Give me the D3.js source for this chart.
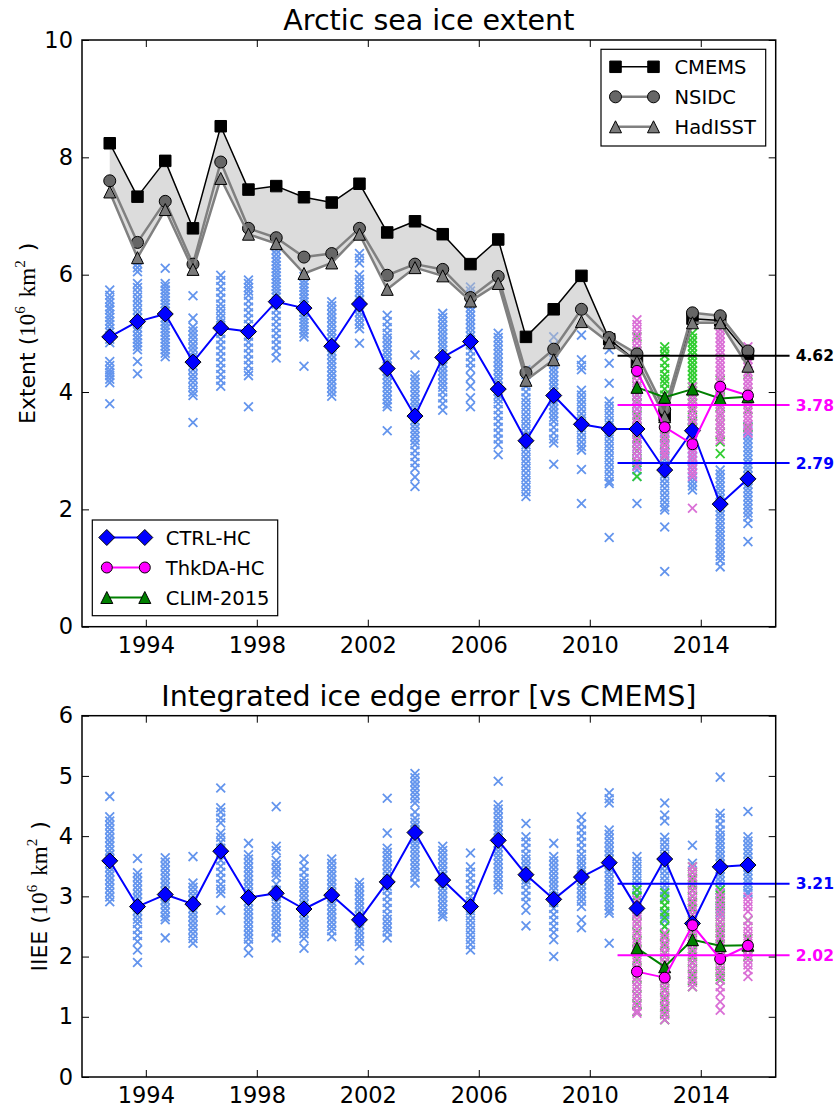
<!DOCTYPE html>
<html><head><meta charset="utf-8">
<script src="https://cdn.jsdelivr.net/npm/d3@7"></script>
<style>body{margin:0;background:#fff} svg text{font-family:"DejaVu Sans",sans-serif}</style>
</head><body><svg id="c" width="836" height="1107"></svg>
<script>
// ---------------- DATA ----------------
const years = [1992,1993,1994,1995,1996,1997,1998,1999,2000,2001,2002,2003,2004,2005,2006,2007,2008,2009,2010,2011,2012,2013,2014,2015];
const fcYears = [2011,2012,2013,2014,2015];
const monthOffset = 0.7; // September
const xTickYears = [1994,1998,2002,2006,2010,2014];
const extentTicks = [0,2,4,6,8,10];
const iieeTicks = [0,1,2,3,4,5,6];

const cmems   = [8.24,7.33,7.94,6.79,8.53,7.45,7.51,7.32,7.23,7.55,6.72,6.91,6.69,6.18,6.60,4.94,5.41,5.98,4.90,4.52,3.60,5.25,5.22,4.65];
const nsidc   = [7.60,6.55,7.25,6.18,7.92,6.79,6.63,6.30,6.36,6.79,5.99,6.18,6.09,5.61,5.97,4.33,4.73,5.41,4.93,4.65,3.70,5.35,5.30,4.70];
const hadisst = [7.41,6.29,7.11,6.09,7.64,6.69,6.53,6.02,6.20,6.69,5.75,6.12,5.98,5.55,5.85,4.20,4.55,5.20,4.84,4.52,3.58,5.18,5.18,4.44];

const ctrlExtent = [4.94,5.20,5.33,4.51,5.09,5.03,5.54,5.43,4.78,5.50,4.40,3.59,4.59,4.86,4.05,3.17,3.94,3.45,3.37,3.37,2.67,3.34,2.09,2.52];
const thkExtent  = [4.36,3.40,3.11,4.09,3.94];
const climExtent = [4.08,3.91,4.05,3.89,3.92];

const ctrlIIEE = [3.59,2.83,3.03,2.87,3.75,2.98,3.05,2.79,3.02,2.61,3.24,4.06,3.27,2.83,3.93,3.36,2.95,3.32,3.56,2.80,3.62,2.55,3.49,3.52];
const thkIIEE  = [1.75,1.65,2.52,1.96,2.18];
const climIIEE = [2.14,1.83,2.28,2.18,2.19];

const extentMeans = [4.62,3.78,2.79];   // CMEMS, ThkDA-HC, CTRL-HC  (2011-2015)
const iieeMeans   = [3.21,2.02];        // CTRL-HC, ThkDA-HC

const ctrlEnsExtent = [
 [5.74,5.65,5.58,5.52,5.45,5.40,5.33,5.27,5.21,5.15,5.08,5.02,4.96,4.90,4.84,4.52,4.45,4.38,4.33,4.28,4.22,4.16,3.80],
 [6.19,6.12,6.05,5.85,5.78,5.70,5.62,5.55,5.48,5.40,5.33,5.26,5.18,5.10,5.03,4.96,4.90,4.84,4.78,4.72,4.52,4.31],
 [6.11,5.85,5.80,5.74,5.68,5.62,5.56,5.50,5.44,5.38,5.32,5.26,5.20,5.14,5.08,5.02,4.96,4.90,4.84,4.78,4.72,4.66,4.60],
 [5.64,5.26,5.11,5.04,4.97,4.90,4.82,4.75,4.68,4.60,4.52,4.45,4.38,4.30,4.23,4.16,4.08,4.00,3.94,3.48],
 [5.99,5.90,5.80,5.70,5.60,5.50,5.42,5.34,5.26,5.18,5.10,5.00,4.90,4.80,4.70,4.60,4.50,4.40,4.30,4.20,4.10],
 [5.91,5.85,5.78,5.72,5.65,5.55,5.45,5.35,5.25,5.15,5.05,4.95,4.85,4.75,4.65,4.55,4.45,4.35,4.28,3.75],
 [6.42,6.35,6.28,6.22,6.16,6.10,6.04,5.98,5.92,5.86,5.80,5.74,5.68,5.62,5.50,5.40,5.30,5.20,5.10,5.00,4.90,4.80,4.70,4.58],
 [5.97,5.90,5.84,5.78,5.72,5.66,5.60,5.54,5.48,5.42,5.36,5.30,5.24,5.18,5.12,5.06,5.00,4.94,4.44],
 [5.54,5.47,5.40,5.33,5.26,5.19,5.12,5.05,4.98,4.91,4.84,4.77,4.70,4.63,4.56,4.49,4.42,4.35,4.28,4.21,4.14,4.07,4.00,3.93],
 [6.36,6.28,6.20,6.00,5.92,5.85,5.78,5.71,5.64,5.57,5.50,5.43,5.36,5.29,5.22,5.15,5.08,4.83],
 [5.31,5.20,5.10,5.00,4.92,4.85,4.78,4.71,4.64,4.57,4.50,4.43,4.36,4.29,4.22,4.15,4.08,4.01,3.94,3.87,3.80,3.75,3.34],
 [4.63,4.29,4.22,4.15,4.08,4.01,3.94,3.87,3.80,3.73,3.66,3.59,3.52,3.45,3.38,3.31,3.24,3.17,3.10,3.00,2.90,2.80,2.70,2.55,2.39],
 [5.34,5.27,5.20,5.13,5.06,4.99,4.92,4.85,4.78,4.71,4.64,4.57,4.50,4.43,4.36,4.29,4.22,4.15,4.08,4.00,3.90,3.80,3.69],
 [5.79,5.72,5.65,5.58,5.51,5.44,5.37,5.30,5.23,5.16,5.09,5.02,4.95,4.88,4.80,4.70,4.60,4.50,4.40,4.25,4.10,3.90,3.75],
 [5.00,4.93,4.86,4.79,4.72,4.65,4.58,4.51,4.44,4.37,4.30,4.23,4.16,4.09,4.02,3.95,3.88,3.80,3.70,3.60,3.50,3.40,3.30,3.20,3.10,2.93],
 [4.38,4.30,4.20,4.10,4.00,3.90,3.82,3.74,3.66,3.58,3.50,3.42,3.34,3.26,3.18,3.10,3.02,2.94,2.86,2.78,2.70,2.62,2.54,2.46,2.38,2.30,2.22],
 [4.94,4.80,4.70,4.62,4.55,4.48,4.41,4.34,4.27,4.20,4.13,4.06,3.99,3.92,3.85,3.78,3.71,3.64,3.57,3.50,3.40,3.30,3.20,3.13,2.77],
 [4.97,4.55,4.45,4.38,4.03,3.95,3.87,3.79,3.71,3.63,3.55,3.47,3.39,3.31,3.23,3.15,3.07,3.01,2.68,2.10],
 [4.72,4.49,4.15,3.84,3.76,3.68,3.60,3.52,3.44,3.36,3.28,3.20,3.12,3.04,2.96,2.88,2.80,2.72,2.64,2.56,2.48,2.44,1.52],
 [4.03,3.95,3.87,3.79,3.71,3.63,3.55,3.47,3.39,3.31,3.23,3.15,3.07,2.99,2.91,2.83,2.75,2.67,2.56,2.10],
 [3.30,3.20,3.10,3.00,2.92,2.84,2.76,2.68,2.60,2.52,2.44,2.36,2.28,2.20,2.12,2.04,1.99,1.70,0.94],
 [3.52,3.45,3.38,3.31,3.24,3.17,3.10,3.03,2.96,2.89,2.82,2.75,2.68,2.61,2.54,2.47,2.40,2.33],
 [2.67,2.60,2.53,2.46,2.39,2.32,2.25,2.18,2.11,2.04,1.97,1.90,1.83,1.76,1.69,1.62,1.55,1.48,1.41,1.34,1.27,1.20,1.13,1.02],
 [3.41,3.34,3.27,3.20,3.13,3.06,2.99,2.92,2.85,2.78,2.71,2.64,2.57,2.50,2.43,2.36,2.29,2.22,2.15,2.08,2.01,1.94,1.87,1.76,1.45]
];
const thkEnsExtent = [
 [5.23,5.15,5.07,4.99,4.91,4.83,4.75,4.67,4.59,4.51,4.43,4.35,4.27,4.19,4.11,4.03,3.95,3.87,3.79,3.71,3.63,3.55,3.47,3.39,3.31,3.23,3.15,3.07,2.99,2.91,2.83,2.73],
 [3.86,3.79,3.72,3.65,3.58,3.51,3.44,3.37,3.30,3.23,3.16,3.09,3.02,2.95,2.90],
 [4.09,4.02,3.95,3.88,3.81,3.74,3.67,3.60,3.53,3.46,3.39,3.32,3.25,3.18,3.11,3.04,2.97,2.90,2.83,2.76,2.69,2.62,2.56,2.02],
 [5.06,4.99,4.92,4.85,4.78,4.71,4.64,4.57,4.50,4.43,4.36,4.29,4.22,4.15,4.08,4.01,3.94,3.87,3.80,3.73,3.66,3.59,3.52,3.45,3.38,3.31,3.24,3.18],
 [4.77,4.70,4.63,4.56,4.49,4.42,4.35,4.28,4.21,4.14,4.07,4.00,3.93,3.86,3.79,3.72,3.65,3.58,3.51,3.44,3.37,3.30]
];
const climEnsExtent = [
 [4.94,4.70,4.50,4.30,4.10,3.95,3.80,3.60,3.40,3.20,3.00,2.80,2.56],
 [4.77,4.70,4.62,4.50,4.40,4.30,4.22,4.15,4.05,3.95,3.85,3.70,3.55,3.40,3.25,3.10,2.90],
 [5.00,4.92,4.85,4.78,4.71,4.64,4.57,4.50,4.43,4.36,4.29,4.22,4.15,4.08,4.01,3.94,3.87,3.80,3.70,3.60,3.50,3.40,3.30,3.24],
 [4.20,4.05,3.90,3.75,3.60,3.45,3.30,3.15,2.95],
 [4.30,4.00,3.70,3.40]
];

const ctrlEnsIIEE = [
 [4.66,4.32,4.25,4.18,4.11,4.04,3.97,3.90,3.83,3.76,3.69,3.62,3.55,3.48,3.41,3.34,3.27,3.20,3.13,3.06,2.99,2.91],
 [3.63,3.39,3.32,3.25,3.18,3.11,3.04,2.97,2.90,2.83,2.76,2.69,2.62,2.55,2.45,2.35,2.25,2.11,1.90],
 [3.64,3.57,3.50,3.43,3.36,3.29,3.22,3.15,3.08,3.01,2.94,2.87,2.80,2.73,2.66,2.61,2.31],
 [3.66,3.22,3.15,3.08,3.01,2.94,2.87,2.80,2.73,2.66,2.59,2.52,2.45,2.38,2.30,2.22],
 [4.80,4.47,4.40,4.30,4.22,4.05,3.98,3.90,3.80,3.70,3.60,3.50,3.40,3.30,3.20,3.12,3.05,2.77],
 [3.88,3.69,3.62,3.55,3.48,3.41,3.34,3.27,3.20,3.13,3.06,2.99,2.92,2.85,2.78,2.71,2.64,2.57,2.50,2.43,2.36,2.29,2.20,2.06],
 [4.49,3.83,3.76,3.60,3.53,3.46,3.39,3.32,3.20,3.10,3.00,2.90,2.83,2.76,2.69,2.62,2.55,2.48,2.41,2.31],
 [3.62,3.50,3.40,3.30,3.22,3.15,3.08,3.01,2.94,2.87,2.80,2.73,2.66,2.59,2.52,2.45,2.38,2.30,2.14],
 [3.62,3.55,3.48,3.41,3.34,3.27,3.20,3.13,3.06,2.99,2.92,2.85,2.78,2.71,2.64,2.57,2.50,2.43,2.33],
 [3.23,3.16,3.09,3.02,2.95,2.88,2.81,2.74,2.67,2.60,2.53,2.46,2.39,2.32,2.25,2.17,1.94],
 [4.63,4.05,3.80,3.73,3.66,3.59,3.52,3.45,3.38,3.31,3.24,3.17,3.10,3.00,2.90,2.80,2.70,2.62,2.55,2.48,2.41,2.31],
 [5.04,4.97,4.90,4.83,4.76,4.69,4.62,4.55,4.40,4.30,4.23,4.16,4.09,4.02,3.95,3.88,3.81,3.74,3.67,3.60,3.53,3.46,3.39,3.32,3.22],
 [3.83,3.76,3.69,3.62,3.55,3.48,3.41,3.34,3.27,3.20,3.13,3.06,2.99,2.92,2.85,2.78,2.71,2.66],
 [3.72,3.49,3.40,3.30,3.20,3.10,3.00,2.92,2.84,2.76,2.68,2.60,2.52,2.44,2.36,2.28,2.20,2.11],
 [4.91,4.52,4.45,4.38,4.31,4.24,4.17,4.10,4.03,3.96,3.89,3.82,3.75,3.68,3.61,3.54,3.47,3.40,3.33,3.26,3.19,3.11],
 [4.21,3.99,3.90,3.80,3.70,3.62,3.55,3.48,3.41,3.34,3.27,3.20,3.10,3.00,2.90,2.77,2.51],
 [3.88,3.66,3.59,3.52,3.45,3.38,3.31,3.24,3.17,3.10,3.00,2.90,2.80,2.70,2.60,2.50,2.40,2.28,2.00],
 [4.32,4.20,4.10,4.00,3.90,3.80,3.70,3.62,3.55,3.48,3.41,3.34,3.27,3.20,3.13,3.06,2.99,2.92,2.83,2.61,2.48],
 [4.72,4.62,4.55,4.10,4.03,3.96,3.89,3.82,3.75,3.68,3.61,3.54,3.47,3.40,3.33,3.26,3.19,3.12,3.05,2.98,2.91,2.84,2.77,2.72,2.22],
 [3.66,3.58,3.50,3.42,3.34,3.26,3.18,3.10,3.02,2.94,2.86,2.78,2.72],
 [4.55,4.35,4.25,3.98,3.90,3.82,3.74,3.66,3.58,3.50,3.42,3.34,3.26,3.18,3.10,3.00,2.85,2.70,2.60,2.50],
 [3.85,3.55],
 [4.98,4.38,4.30,4.20,4.10,4.02,3.95,3.88,3.81,3.74,3.67,3.60,3.53,3.46,3.39,3.32,3.25,3.18,3.11,3.04,2.97,2.90,2.80,2.72],
 [4.41,3.99,3.92,3.85,3.78,3.71,3.64,3.57,3.50,3.43,3.36,3.29,3.22,3.15,3.08,3.05]
];
const thkEnsIIEE = [
 [2.94,2.86,2.78,2.70,2.62,2.54,2.46,2.38,2.30,2.22,2.14,2.06,1.98,1.90,1.82,1.74,1.66,1.58,1.50,1.42,1.34,1.26,1.18,1.10,1.06],
 [2.39,2.31,2.23,2.15,2.07,1.99,1.91,1.83,1.75,1.67,1.59,1.51,1.43,1.35,1.27,1.19,1.11,1.03,0.95],
 [3.49,3.41,3.33,3.25,3.17,3.09,3.01,2.93,2.85,2.77,2.69,2.61,2.53,2.45,2.37,2.29,2.21,2.13,2.05,1.97,1.89,1.81,1.73,1.65,1.57,1.50],
 [3.06,2.98,2.90,2.82,2.74,2.66,2.58,2.50,2.42,2.34,2.26,2.18,2.10,2.02,1.94,1.86,1.78,1.70,1.62,1.50,1.40,1.25,1.11],
 [2.99,2.91,2.83,2.75,2.60,2.50,2.42,2.34,2.26,2.18,2.10,2.02,1.94,1.86,1.78,1.67]
];
const climEnsIIEE = [
 [3.11,3.00,2.85,2.70,2.55,2.40,2.25,2.10,1.95,1.80,1.65,1.50,1.35,1.20,1.09],
 [3.06,2.95,2.85,2.75,2.65,2.50,2.35,2.20,2.05,1.90,1.75,1.60,1.45,1.30,1.15,1.05,0.95],
 [3.49,3.40,3.30,3.20,3.10,3.00,2.90,2.80,2.70,2.60,2.50,2.40,2.30,2.20,2.10,2.00,1.90,1.80,1.70,1.60,1.50],
 [3.11,3.02,2.93,2.84,2.75,2.66,2.57,2.48,2.39,2.30,2.21,2.12,2.03,1.94,1.85,1.76,1.67,1.61],
 [2.60,2.30,2.00]
];

// ---------------- STYLE / LAYOUT ----------------
const C = {ctrl:"#0000ff", thk:"#ff00ff", clim:"#008000", ensCtrl:"#6495ed", ensThk:"#da70d6", ensClim:"#32cd32",
           cmems:"#000000", obsLine:"#808080", nsidc:"#666666", had:"#7a7a7a"};
const L = 82, R = 775.7;
const topP = {t:40, b:626.7}, botP = {t:715.7, b:1077};
const svg = d3.select("#c");

const x = d3.scaleLinear().domain([1991.7, 2016.7]).range([L, R]);
const yTop = d3.scaleLinear().domain([0,10]).range([topP.b, topP.t]);
const yBot = d3.scaleLinear().domain([0,6]).range([botP.b, botP.t]);
const xd = y => x(y + monthOffset);

const sq = s => `M${-s/2},${-s/2}h${s}v${s}h${-s}Z`;
const dia = r => `M0,${-r}L${r},0L0,${r}L${-r},0Z`;
const tri = s => `M0,${-s/2}L${s/2},${s/2}L${-s/2},${s/2}Z`;
const cross = h => `M${-h},${-h}L${h},${h}M${-h},${h}L${h},${-h}`;

function clipFor(id, p){
  svg.append("clipPath").attr("id", id).append("rect").attr("x", L).attr("y", p.t).attr("width", R-L).attr("height", p.b-p.t);
}
clipFor("clipTop", topP); clipFor("clipBot", botP);

function ensemble(g, yrs, ens, y, color){
  yrs.forEach((yr,i) => {
    g.selectAll(null).data(ens[i]).enter().append("path")
      .attr("d", cross(4.4)).attr("transform", v => `translate(${xd(yr)},${y(v)})`)
      .attr("fill","none").attr("stroke", color).attr("stroke-width", 1.8);
  });
}
function series(g, yrs, vals, y, lineColor, lw, marker, fill){
  g.append("path").datum(vals)
    .attr("d", d3.line().x((v,i)=>xd(yrs[i])).y(v=>y(v)))
    .attr("fill","none").attr("stroke", lineColor).attr("stroke-width", lw).attr("stroke-linejoin","round");
  g.selectAll(null).data(vals).enter().append(marker.tag||"path")
    .each(function(v,i){
      const el = d3.select(this);
      if (marker.tag === "circle") el.attr("cx", xd(yrs[i])).attr("cy", y(v)).attr("r", marker.r);
      else el.attr("d", marker.d).attr("transform", `translate(${xd(yrs[i])},${y(v)})`);
    })
    .attr("fill", fill).attr("stroke","#000").attr("stroke-width",1);
}
const mSq = {d: sq(11.5)}, mDia = {d: dia(8)}, mTri = {d: tri(12)}, mTriS = {d: tri(12)};
const mCirc = {tag:"circle", r:6}, mCircS = {tag:"circle", r:5.5};

function axes(p, y, ticks){
  const g = svg.append("g");
  g.append("g").attr("transform",`translate(0,${p.b})`)
    .call(d3.axisBottom(x).tickValues(xTickYears).tickFormat(d3.format("d")).tickSizeInner(-7).tickSizeOuter(0).tickPadding(10))
    .call(a=>a.select(".domain").remove());
  g.append("g").attr("transform",`translate(0,${p.t})`)
    .call(d3.axisTop(x).tickValues(xTickYears).tickFormat("").tickSizeInner(-7).tickSizeOuter(0))
    .call(a=>a.select(".domain").remove());
  g.append("g").attr("transform",`translate(${L},0)`)
    .call(d3.axisLeft(y).tickValues(ticks).tickFormat(d3.format("d")).tickSizeInner(-7).tickSizeOuter(0).tickPadding(9))
    .call(a=>a.select(".domain").remove());
  g.append("g").attr("transform",`translate(${R},0)`)
    .call(d3.axisRight(y).tickValues(ticks).tickFormat("").tickSizeInner(-7).tickSizeOuter(0))
    .call(a=>a.select(".domain").remove());
  g.selectAll(".tick text").style("font-size","22.5px").style("font-family","DejaVu Sans").attr("fill","#000");
  g.selectAll(".tick line").attr("stroke","#000").attr("stroke-width",1);
  svg.append("rect").attr("x",L).attr("y",p.t).attr("width",R-L).attr("height",p.b-p.t)
    .attr("fill","none").attr("stroke","#000").attr("stroke-width",1.5);
}
function yLabel(xp, yp, prefix){
  const t = svg.append("text").attr("transform",`translate(${xp},${yp}) rotate(-90)`)
    .attr("text-anchor","middle").style("font-size","22px");
  const serif = "Liberation Serif, DejaVu Serif, serif";
  t.append("tspan").text(prefix + " (");
  t.append("tspan").style("font-family",serif).style("font-size","23px").text("10");
  t.append("tspan").style("font-family",serif).style("font-size","15px").attr("dy",-10).text("6");
  t.append("tspan").style("font-family",serif).style("font-size","23px").attr("dy",10).attr("dx",9).text("km");
  t.append("tspan").style("font-family",serif).style("font-size","15px").attr("dy",-10).text("2");
  t.append("tspan").attr("dy",10).attr("dx",9).text(")");
}
function meanLine(y, v, color){
  svg.append("line").attr("x1", x(2011.0)).attr("x2", x(2017.2)).attr("y1", y(v)).attr("y2", y(v))
    .attr("stroke", color).attr("stroke-width", 2);
  svg.append("text").attr("x", x(2017.42)).attr("y", y(v)).attr("dy","0.36em")
    .style("font-size","15.5px").style("font-weight","bold").attr("fill", color).text(v.toFixed(2));
}
function legend(x0, y0, w, h, items){
  const g = svg.append("g").attr("transform",`translate(${x0},${y0})`);
  g.append("rect").attr("width",w).attr("height",h).attr("fill","#fff").attr("stroke","#000").attr("stroke-width",1.2);
  items.forEach((it,i)=>{
    const yy = 17.5 + i*30;
    g.append("line").attr("x1",14.5).attr("x2",52.5).attr("y1",yy).attr("y2",yy).attr("stroke",it.line).attr("stroke-width",it.lw);
    [14.5,52.5].forEach(xx=>{
      if (it.m.tag==="circle") g.append("circle").attr("cx",xx).attr("cy",yy).attr("r",it.m.r).attr("fill",it.fill).attr("stroke","#000");
      else g.append("path").attr("d",it.m.d).attr("transform",`translate(${xx},${yy})`).attr("fill",it.fill).attr("stroke","#000");
    });
    g.append("text").attr("x",73.5).attr("y",yy).attr("dy","0.36em").style("font-size","19.5px").text(it.label);
  });
}

// ---------------- TOP PANEL ----------------
svg.append("text").attr("x",(L+R)/2).attr("y",29.5).attr("text-anchor","middle").style("font-size","28.5px").text("Arctic sea ice extent");
const gT = svg.append("g").attr("clip-path","url(#clipTop)");
ensemble(gT, years, ctrlEnsExtent, yTop, C.ensCtrl);
ensemble(gT, fcYears, climEnsExtent, yTop, C.ensClim);
ensemble(gT, fcYears, thkEnsExtent, yTop, C.ensThk);
gT.append("path").datum(years)
  .attr("d", d3.area().x(yr=>xd(yr))
    .y0((yr,i)=>yTop(Math.min(cmems[i],nsidc[i],hadisst[i])))
    .y1((yr,i)=>yTop(Math.max(cmems[i],nsidc[i],hadisst[i]))))
  .attr("fill","#bfbfbf").attr("fill-opacity",0.55);
series(gT, years, cmems, yTop, "#000", 1.5, mSq, "#000");
series(gT, years, nsidc, yTop, C.obsLine, 2.5, mCirc, C.nsidc);
series(gT, years, hadisst, yTop, C.obsLine, 2.5, mTri, C.had);
series(gT, years, ctrlExtent, yTop, C.ctrl, 2, mDia, C.ctrl);
series(gT, fcYears, climExtent, yTop, C.clim, 2, mTriS, C.clim);
series(gT, fcYears, thkExtent, yTop, C.thk, 2, mCircS, C.thk);
meanLine(yTop, extentMeans[0], "#000");
meanLine(yTop, extentMeans[1], C.thk);
meanLine(yTop, extentMeans[2], C.ctrl);
axes(topP, yTop, extentTicks);
yLabel(35, (topP.t+topP.b)/2, "Extent");
legend(601, 49.3, 164.7, 96.7, [
  {label:"CMEMS", line:"#000", lw:1.5, m:mSq, fill:"#000"},
  {label:"NSIDC", line:C.obsLine, lw:2.5, m:mCirc, fill:C.nsidc},
  {label:"HadISST", line:C.obsLine, lw:2.5, m:mTri, fill:C.had}
]);
legend(92.3, 520, 185.4, 95.7, [
  {label:"CTRL-HC", line:C.ctrl, lw:2, m:mDia, fill:C.ctrl},
  {label:"ThkDA-HC", line:C.thk, lw:2, m:mCircS, fill:C.thk},
  {label:"CLIM-2015", line:C.clim, lw:2, m:mTriS, fill:C.clim}
]);

// ---------------- BOTTOM PANEL ----------------
svg.append("text").attr("x",(L+R)/2).attr("y",705.7).attr("text-anchor","middle").style("font-size","28.5px").text("Integrated ice edge error [vs CMEMS]");
const gB = svg.append("g").attr("clip-path","url(#clipBot)");
ensemble(gB, years, ctrlEnsIIEE, yBot, C.ensCtrl);
ensemble(gB, fcYears, climEnsIIEE, yBot, C.ensClim);
ensemble(gB, fcYears, thkEnsIIEE, yBot, C.ensThk);
series(gB, years, ctrlIIEE, yBot, C.ctrl, 2, mDia, C.ctrl);
series(gB, fcYears, climIIEE, yBot, C.clim, 2, mTriS, C.clim);
series(gB, fcYears, thkIIEE, yBot, C.thk, 2, mCircS, C.thk);
meanLine(yBot, iieeMeans[0], C.ctrl);
meanLine(yBot, iieeMeans[1], C.thk);
axes(botP, yBot, iieeTicks);
yLabel(47, (botP.t+botP.b)/2, "IIEE");
</script></body></html>
